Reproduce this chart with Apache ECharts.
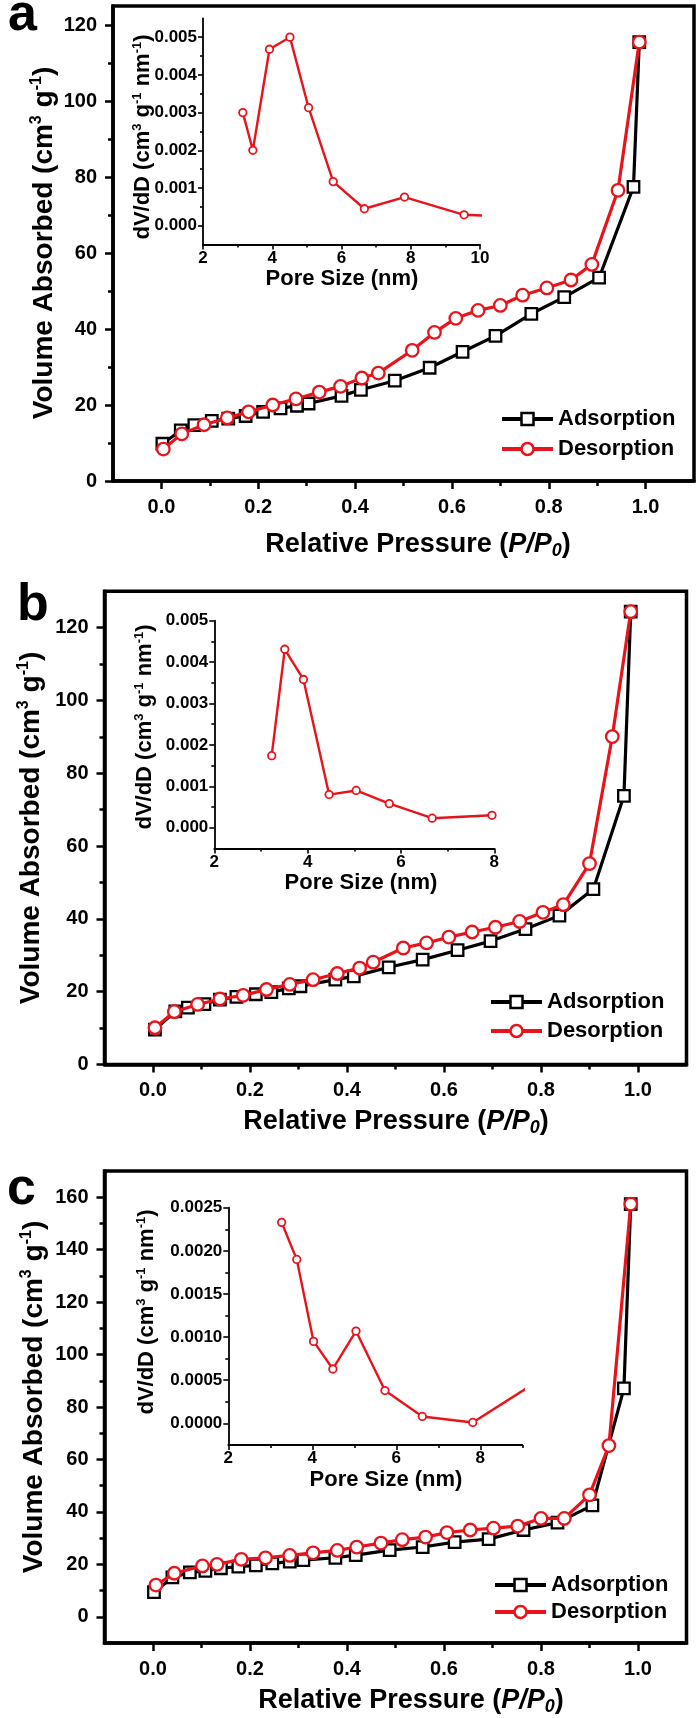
<!DOCTYPE html>
<html>
<head>
<meta charset="utf-8">
<title>N2 isotherms</title>
<script src="https://cdn.jsdelivr.net/npm/echarts@6/dist/echarts.min.js"></script>
<style>
  html, body { margin: 0; padding: 0; background: #fff; }
  #chart { width: 700px; height: 1718px; }
</style>
</head>
<body>
<div id="chart"></div>
<script>
const FONT = '"Liberation Sans", Arial, Helvetica, sans-serif';
const BLACK = '#000000';
const RED = '#e8141c';

// panel a
const adsorptionA = [[0.002, 9.8], [0.04, 13.3], [0.068, 14.7], [0.104, 15.8], [0.138, 16.4], [0.174, 17.1], [0.21, 18.2], [0.246, 19.1], [0.28, 19.8], [0.304, 20.4], [0.372, 22.4], [0.412, 24.0], [0.482, 26.4], [0.554, 29.8], [0.622, 34.0], [0.69, 38.2], [0.764, 44.0], [0.832, 48.4], [0.904, 53.5], [0.975, 77.4], [0.987, 115.5]];
const desorptionA = [[0.004, 8.4], [0.042, 12.4], [0.088, 14.8], [0.136, 16.6], [0.18, 18.2], [0.23, 20.0], [0.278, 21.6], [0.326, 23.4], [0.37, 24.9], [0.414, 27.1], [0.448, 28.4], [0.518, 34.4], [0.564, 39.1], [0.608, 42.8], [0.654, 44.9], [0.70, 46.2], [0.746, 48.9], [0.796, 50.8], [0.846, 52.9], [0.889, 57.0], [0.943, 76.5], [0.987, 115.5]];
const poreA = [[3.15, 0.0030], [3.44, 0.0020], [3.92, 0.00468], [4.51, 0.0050], [5.05, 0.00313], [5.76, 0.00117], [6.66, 0.00045], [7.82, 0.00076], [9.54, 0.00029], [10.6, 0.00025]];

// panel b
const adsorptionB = [[0.004, 9.6], [0.046, 14.6], [0.072, 15.6], [0.106, 16.6], [0.138, 17.8], [0.172, 18.6], [0.212, 19.3], [0.244, 19.9], [0.28, 20.9], [0.304, 21.5], [0.376, 23.3], [0.414, 24.2], [0.486, 26.7], [0.556, 28.8], [0.628, 31.4], [0.696, 33.9], [0.768, 37.2], [0.838, 40.9], [0.908, 48.2], [0.971, 73.8], [0.985, 124.4]];
const desorptionB = [[0.004, 10.1], [0.044, 14.5], [0.092, 16.5], [0.138, 18.0], [0.186, 19.0], [0.234, 20.6], [0.282, 22.0], [0.33, 23.3], [0.38, 25.0], [0.426, 26.5], [0.454, 28.1], [0.516, 32.0], [0.564, 33.4], [0.61, 35.0], [0.658, 36.4], [0.706, 37.7], [0.756, 39.3], [0.804, 41.8], [0.846, 43.9], [0.90, 55.2], [0.947, 90.1], [0.985, 124.4]];
const poreB = [[3.23, 0.00174], [3.51, 0.00431], [3.91, 0.00358], [4.46, 0.00080], [5.04, 0.00090], [5.75, 0.00058], [6.67, 0.00023], [7.95, 0.00030]];

// panel c
const adsorptionC = [[0.002, 9.4], [0.04, 15.0], [0.076, 16.9], [0.108, 17.5], [0.14, 18.5], [0.176, 19.1], [0.212, 19.6], [0.246, 20.4], [0.282, 21.0], [0.31, 21.6], [0.376, 22.5], [0.418, 23.5], [0.488, 25.4], [0.556, 26.6], [0.622, 28.5], [0.692, 29.6], [0.764, 33.1], [0.834, 35.9], [0.906, 42.5], [0.971, 87.1], [0.985, 157.4]];
const desorptionC = [[0.006, 12.1], [0.044, 16.6], [0.102, 19.4], [0.132, 20.0], [0.182, 21.9], [0.232, 22.5], [0.282, 23.4], [0.33, 24.4], [0.38, 25.3], [0.42, 26.6], [0.47, 28.1], [0.514, 29.4], [0.562, 30.4], [0.606, 32.1], [0.654, 33.1], [0.702, 33.8], [0.752, 34.6], [0.80, 37.5], [0.848, 37.5], [0.90, 46.5], [0.940, 65.3], [0.985, 157.4]];
const poreC = [[3.27, 0.00233], [3.63, 0.00190], [4.03, 0.00095], [4.49, 0.00063], [5.04, 0.00107], [5.73, 0.00038], [6.62, 0.00008], [7.82, 0.00001], [9.5, 0.00053]];

// tick values
const pressureMajor = [0, 0.2, 0.4, 0.6, 0.8, 1.0];
const pressureMinor = [0.1, 0.3, 0.5, 0.7, 0.9];
const volumeMajorAB = [0, 20, 40, 60, 80, 100, 120];
const volumeMinorAB = [10, 30, 50, 70, 90, 110];
const volumeMajorC = [0, 20, 40, 60, 80, 100, 120, 140, 160];
const volumeMinorC = [10, 30, 50, 70, 90, 110, 130, 150];
const poreMajorA = [2, 4, 6, 8, 10];
const poreMinorA = [3, 5, 7, 9];
const poreMajorB = [2, 4, 6, 8];
const poreMinorB = [3, 5, 7];
const poreMajorC = [2, 4, 6, 8];
const poreMinorC = [3, 5, 7, 9];
const dvMajorAB = [0, 0.001, 0.002, 0.003, 0.004, 0.005];
const dvMinorAB = [0.0005, 0.0015, 0.0025, 0.0035, 0.0045];
const dvMajorC = [0, 0.0005, 0.001, 0.0015, 0.002, 0.0025];
const dvMinorC = [0.00025, 0.00075, 0.00125, 0.00175, 0.00225];

const seriesNames = ['Adsorption', 'Desorption'];

const panels = [
  {
    letter: 'a', letterPos: [8, 16],
    main: { left: 113, top: 6, width: 581, height: 475 }, yRange: [0, 125],
    yMajor: volumeMajorAB, yMinor: volumeMinorAB,
    inset: { left: 203, top: 18.3, width: 277, height: 226.3 },
    ixRange: [2, 10], iyRange: [-0.0005, 0.0055],
    ixMajor: poreMajorA, ixMinor: poreMinorA, iyMajor: dvMajorAB, iyMinor: dvMinorAB, iyDigits: 3,
    ads: adsorptionA, des: desorptionA, pore: poreA,
    legend: { left: 500, top: 408, gap: 8 },
    yTitle: [44, 243], xTitle: [418, 545], iyTitle: [143, 137], ixTitle: [342, 279]
  },
  {
    letter: 'b', letterPos: [17, 606],
    main: { left: 104.5, top: 591.3, width: 582, height: 473.2 }, yRange: [0, 130],
    yMajor: volumeMajorAB, yMinor: volumeMinorAB,
    inset: { left: 214.3, top: 620.7, width: 280, height: 227.7 },
    ixRange: [2, 8], iyRange: [-0.0005, 0.005],
    ixMajor: poreMajorB, ixMinor: poreMinorB, iyMajor: dvMajorAB, iyMinor: dvMinorAB, iyDigits: 3,
    ads: adsorptionB, des: desorptionB, pore: poreB,
    legend: { left: 489, top: 991, gap: 7 },
    yTitle: [31, 828], xTitle: [396, 1122], iyTitle: [145, 727], ixTitle: [361, 883]
  },
  {
    letter: 'c', letterPos: [7, 1190],
    main: { left: 104.5, top: 1171, width: 582, height: 472 }, yRange: [-10, 170],
    yMajor: volumeMajorC, yMinor: volumeMinorC,
    inset: { left: 228.3, top: 1207.7, width: 294, height: 237.2 },
    ixRange: [2, 9], iyRange: [-0.00025, 0.0025],
    ixMajor: poreMajorC, ixMinor: poreMinorC, iyMajor: dvMajorC, iyMinor: dvMinorC, iyDigits: 4,
    ads: adsorptionC, des: desorptionC, pore: poreC,
    legend: { left: 493, top: 1574, gap: 5 },
    yTitle: [34, 1397], xTitle: [411, 1701], iyTitle: [147, 1312], ixTitle: [386, 1480]
  }
];

function axis(dim, gridIndex, range, ticks, len, width, label) {
  const a = {
    type: 'value', gridIndex: gridIndex, min: range[0], max: range[1],
    position: dim === 'x' ? 'bottom' : 'left',
    splitLine: { show: false },
    axisLine: { show: !!label, onZero: false, lineStyle: { color: BLACK, width: width } },
    axisTick: { show: true, inside: false, length: len, customValues: ticks,
      lineStyle: { color: BLACK, width: width > 2 ? 2.5 : 1.6 } },
    axisLabel: { show: false }
  };
  if (label) {
    a.axisLabel = Object.assign({ show: true, customValues: ticks, color: BLACK,
      fontFamily: FONT, fontWeight: 'bold' }, label);
  }
  return a;
}

function line(name, data, xi, yi, color, symbol, size, lw, bw, z) {
  return {
    type: 'line', name: name, data: data, xAxisIndex: xi, yAxisIndex: yi,
    symbol: symbol, symbolSize: size, showSymbol: true, showAllSymbol: true,
    lineStyle: { color: color, width: lw },
    itemStyle: { color: '#ffffff', borderColor: color, borderWidth: bw },
    clip: true, z: z, animation: false, emphasis: { disabled: true }
  };
}

function legendItem(name, color) {
  return {
    name: name,
    itemStyle: { color: '#ffffff', borderColor: color, borderWidth: 2.5 },
    lineStyle: { color: color, width: 4 }
  };
}

function text(x, y, str, size, rotate, extra) {
  const sup = Math.round(size * 0.58);
  return {
    type: 'text', x: x, y: y, rotation: rotate ? Math.PI / 2 : 0, silent: true,
    style: Object.assign({
      text: str, fill: BLACK, fontFamily: FONT, fontWeight: 'bold', fontSize: size,
      align: 'center', verticalAlign: 'middle',
      rich: {
        t: { fontFamily: FONT, fontWeight: 'bold', fontSize: size, fill: BLACK, lineHeight: size + 3 },
        s: { fontFamily: FONT, fontWeight: 'bold', fontSize: sup, fill: BLACK, verticalAlign: 'top', lineHeight: sup },
        i: { fontFamily: FONT, fontWeight: 'bold', fontStyle: 'italic', fontSize: size, fill: BLACK, lineHeight: size + 3 },
        b: { fontFamily: FONT, fontWeight: 'bold', fontStyle: 'italic', fontSize: sup + 2, fill: BLACK, verticalAlign: 'bottom', lineHeight: sup + 2 }
      }
    }, extra || {})
  };
}

const grid = [], xAxis = [], yAxis = [], series = [], legend = [], graphic = [];

panels.forEach(function (p) {
  // main plot
  const g = grid.length;
  grid.push(Object.assign({ show: true, borderColor: BLACK, borderWidth: 3.5,
    backgroundColor: 'transparent', containLabel: false, outerBoundsMode: 'none' }, p.main));
  const xi = xAxis.length, yi = yAxis.length;
  xAxis.push(axis('x', g, [-0.1, 1.1], pressureMajor, 8, 3.5,
    { fontSize: 20, margin: 16, formatter: function (v) { return v.toFixed(1); } }));
  xAxis.push(axis('x', g, [-0.1, 1.1], pressureMinor, 5, 3.5, null));
  yAxis.push(axis('y', g, p.yRange, p.yMajor, 8, 3.5,
    { fontSize: 20, margin: 16, formatter: function (v) { return String(v); } }));
  yAxis.push(axis('y', g, p.yRange, p.yMinor, 5, 3.5, null));
  series.push(line(seriesNames[0], p.ads, xi, yi, BLACK, 'rect', 11.5, 3.2, 2.3, 3));
  series.push(line(seriesNames[1], p.des, xi, yi, RED, 'circle', 12.5, 3.2, 2.3, 4));

  // inset
  const gi = grid.length;
  grid.push(Object.assign({ show: false, containLabel: false, outerBoundsMode: 'none' }, p.inset));
  const ixi = xAxis.length, iyi = yAxis.length;
  xAxis.push(axis('x', gi, p.ixRange, p.ixMajor, 5, 1.8,
    { fontSize: 17, margin: 5, formatter: function (v) { return String(v); } }));
  xAxis.push(axis('x', gi, p.ixRange, p.ixMinor, 3, 1.8, null));
  yAxis.push(axis('y', gi, p.iyRange, p.iyMajor, 5, 1.8,
    { fontSize: 17, margin: 6, formatter: function (v) { return v.toFixed(p.iyDigits); } }));
  yAxis.push(axis('y', gi, p.iyRange, p.iyMinor, 3, 1.8, null));
  series.push(line('PSD ' + p.letter, p.pore, ixi, iyi, RED, 'circle', 7.5, 2.4, 1.8, 5));

  legend.push({
    orient: 'vertical', left: p.legend.left, top: p.legend.top, itemGap: p.legend.gap,
    itemWidth: 51, itemHeight: 15, selectedMode: false, padding: 0,
    data: [legendItem(seriesNames[0], BLACK), legendItem(seriesNames[1], RED)],
    textStyle: { color: BLACK, fontFamily: FONT, fontWeight: 'bold', fontSize: 22 }
  });

  // titles and panel letter
  graphic.push(text(p.letterPos[0], p.letterPos[1], p.letter, 52, false, { align: 'left' }));
  graphic.push(text(p.yTitle[0], p.yTitle[1], '{t|Volume Absorbed (cm}{s|3}{t| g}{s|-1}{t|)}', 28, true));
  graphic.push(text(p.xTitle[0], p.xTitle[1], '{t|Relative Pressure (}{i|P/P}{b|0}{t|)}', 27, false));
  graphic.push(text(p.iyTitle[0], p.iyTitle[1], '{t|dV/dD (cm}{s|3}{t| g}{s|-1}{t| nm}{s|-1}{t|)}', 22, true));
  graphic.push(text(p.ixTitle[0], p.ixTitle[1], '{t|Pore Size (nm)}', 22, false));
});

const chart = echarts.init(document.getElementById('chart'), null, { renderer: 'canvas' });
chart.setOption({
  backgroundColor: '#ffffff',
  animation: false,
  grid: grid,
  xAxis: xAxis,
  yAxis: yAxis,
  legend: legend,
  series: series,
  graphic: graphic
});
</script>
</body>
</html>
